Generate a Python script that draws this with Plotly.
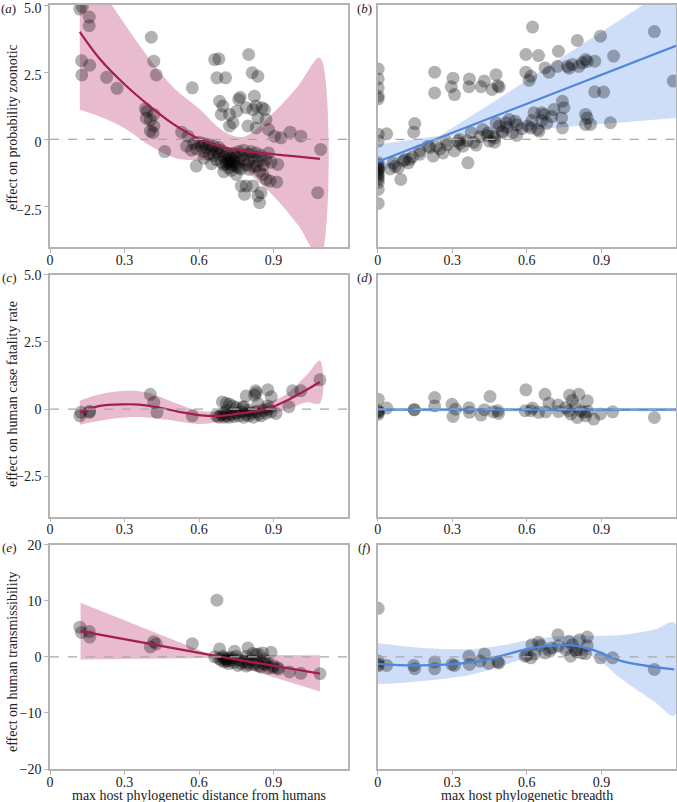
import plotly.graph_objects as go
from plotly.subplots import make_subplots

# ---------------- data ----------------
# panel a: max host phylogenetic distance -> probability zoonotic
a_pts_x = [0.12, 0.13, 0.158, 0.158, 0.127, 0.16, 0.128, 0.228, 0.27, 0.408, 0.418, 0.428,
           0.384, 0.391, 0.418, 0.388, 0.404, 0.418, 0.404, 0.415, 0.462, 0.53, 0.556, 0.573,
           0.589, 0.663, 0.68, 0.672, 0.707, 0.683, 0.696, 0.723, 0.69, 0.737, 0.723, 0.752,
           0.76, 0.766, 0.80, 0.814, 0.837, 0.79, 0.817, 0.823, 0.837, 0.797, 0.83, 0.854,
           0.864, 0.87, 0.83, 0.88, 0.904, 0.93, 0.967, 1.01, 1.09, 1.078, 0.917, 0.913,
           0.886, 0.844, 0.83, 0.857, 0.87, 0.817, 0.837, 0.844, 0.85, 0.79, 0.783, 0.77,
           0.803, 0.58, 0.59, 0.60, 0.61, 0.62, 0.62, 0.63, 0.64, 0.64, 0.65, 0.66, 0.66,
           0.67, 0.67, 0.68, 0.68, 0.69, 0.69, 0.70, 0.70, 0.71, 0.71, 0.72, 0.72, 0.72,
           0.73, 0.73, 0.73, 0.74, 0.74, 0.75, 0.75, 0.76, 0.76, 0.77, 0.77, 0.78, 0.78,
           0.79, 0.80, 0.80, 0.81, 0.82, 0.82, 0.83, 0.84, 0.85, 0.86, 0.87, 0.88, 0.89,
           0.62, 0.65, 0.70, 0.75, 0.55, 0.57, 0.71, 0.73, 0.74, 0.72, 0.76]
a_pts_y = [4.85, 4.93, 4.55, 4.23, 2.93, 2.76, 2.40, 2.31, 1.90, 3.80, 2.91, 2.40,
           1.14, 1.05, 0.93, 0.79, 0.72, 0.50, 0.31, 0.25, -0.45, 0.27, 0.12, 1.92,
           -0.99, 2.97, 3.00, 2.29, 2.29, 1.42, 1.24, 0.93, 0.93, 0.62, 0.50, 1.05,
           1.49, 1.57, 3.16, 2.48, 2.35, 1.18, 1.11, 1.61, 0.80, 0.50, 1.24, 1.18,
           1.11, 0.74, 0.43, 0.37, 0.12, 0.06, 0.27, 0.12, -0.37, -1.98, -0.93, -1.58,
           -1.55, -1.18, -0.99, -1.30, -1.49, -1.73, -2.10, -2.35, -1.98, -1.73, -2.04, -1.73,
           -1.11, -0.15, -0.35, -0.10, -0.25, -0.45, -0.15, -0.30, -0.55, -0.20, -0.35, -0.60, -0.25,
           -0.45, -0.75, -0.30, -0.55, -0.85, -0.40, -0.65, -0.95, -0.50, -0.80, -1.05, -0.60, -0.85,
           -0.70, -0.95, -1.15, -0.80, -0.50, -1.00, -0.65, -0.85, -0.45, -1.10, -0.60, -0.75, -0.40,
           -0.95, -0.55, -0.80, -0.45, -0.65, -1.00, -0.50, -0.80, -0.60, -0.95, -0.75, -0.50, -0.85,
           -0.70, -0.90, -1.20, -1.30, -0.25, -0.40, -0.90, -0.85, -0.95, -0.75, -1.05]
a_fit_x = [0.12, 0.2, 0.3, 0.4, 0.5, 0.6, 0.7, 0.8, 0.9, 1.0, 1.087]
a_fit_y = [4.0, 3.0, 2.05, 1.25, 0.55, 0.02, -0.3, -0.45, -0.55, -0.64, -0.72]
a_hi_x = [0.12, 0.2, 0.3, 0.4, 0.5, 0.6, 0.7, 0.78, 0.9, 1.0, 1.087]
a_hi_y = [7.0, 5.7, 4.3, 3.0, 1.9, 1.15, 0.3, 0.1, 1.0, 2.0, 3.04]
a_lo_x = [0.12, 0.2, 0.3, 0.4, 0.5, 0.6, 0.65, 0.7, 0.75, 0.8, 0.9, 1.0, 1.087]
a_lo_y = [1.1, 0.85, 0.42, -0.22, -0.68, -0.78, -0.75, -0.68, -0.85, -1.25, -2.1, -3.2, -4.4]

# panel b: max host phylogenetic breadth -> probability zoonotic
b_pts_x = [0.002, 0.002, 0.002, 0.002, 0.002, 0.002, 0.002, 0.002, 0.002, 0.002, 0.002,
           0.002, 0.002, 0.002, 0.002, 0.002, 0.002, 0.002, 0.002,
           0.036, 0.093, 0.063, 0.083, 0.103, 0.123, 0.129, 0.149, 0.145, 0.169, 0.203,
           0.223, 0.229, 0.229, 0.236, 0.263, 0.276, 0.296, 0.303, 0.309, 0.309, 0.323,
           0.33, 0.343, 0.363, 0.367, 0.369, 0.376, 0.386, 0.396, 0.416, 0.429, 0.423,
           0.443, 0.449, 0.46, 0.463, 0.476, 0.483, 0.489, 0.47, 0.476, 0.489, 0.503,
           0.516, 0.529, 0.543, 0.553, 0.559, 0.596, 0.596, 0.623, 0.647, 0.609, 0.616,
           0.603, 0.616, 0.629, 0.643, 0.649, 0.66, 0.669, 0.673, 0.689, 0.709, 0.727,
           0.723, 0.743, 0.749, 0.743, 0.763, 0.77, 0.783, 0.803, 0.809, 0.823, 0.836,
           0.843, 0.836, 0.843, 0.836, 0.856, 0.873, 0.873, 0.896, 0.909, 0.936, 0.949,
           1.113, 1.189, 0.52, 0.50, 0.47, 0.44, 0.41, 0.36, 0.33, 0.28, 0.25, 0.21,
           0.17, 0.14, 0.11, 0.07, 0.05, 0.56, 0.58, 0.66, 0.68, 0.70, 0.74, 0.62]
b_pts_y = [2.62, 2.25, 1.92, 1.61, 1.51, 0.19, -0.06, -0.87, -0.95, -1.05, -1.15, -1.24,
           -1.32, -1.40, -1.49, -1.60, -1.86, -2.38, -1.10,
           0.21, -1.49, -0.87, -1.05, -0.80, -0.87, -0.74, 0.59, 0.27, -0.43, -0.25,
           -0.62, 2.50, 1.73, -0.25, -0.50, -0.06, 1.96, 2.28, 1.67, -0.43, -0.06,
           0.00, -0.25, -0.87, 1.96, 2.25, 0.25, -0.10, -0.21, 1.96, 2.17, 0.37,
           0.25, -0.06, 1.86, 0.12, 2.41, 2.00, 1.95, -0.10, 0.62, 0.50, 0.25,
           0.62, 0.74, 0.25, 0.68, 0.15, 3.16, 2.50, 4.18, 3.12, 2.20, 2.35,
           0.50, 0.43, 0.99, 0.37, 0.31, 0.99, 0.93, 2.66, 2.50, 1.11, 3.28,
           2.72, 1.42, 1.18, 0.43, 2.72, 2.65, 2.79, 3.68, 2.72, 2.85, 2.97,
           2.90, 0.93, 0.80, 0.56, 0.56, 2.91, 1.77, 3.84, 1.76, 0.62, 3.10,
           4.01, 2.17, 0.45, 0.30, 0.05, 0.15, 0.10, -0.05, -0.15, -0.20, -0.35, -0.30,
           -0.55, -0.65, -0.75, -1.00, -1.10, 0.55, 0.40, 0.70, 0.60, 0.85, 0.80, 0.70]
b_fit_x = [0.0, 1.2]
b_fit_y = [-0.83, 3.48]
b_band_x = [0.0, 0.25, 0.5, 0.75, 1.0, 1.2]
b_hi_y = [-0.19, 0.14, 1.6, 3.1, 4.6, 5.8]
b_lo_y = [-1.3, 0.10, 0.28, 0.46, 0.64, 0.80]

# panel c: max host phylogenetic distance -> case fatality rate
c_pts_x = [0.12, 0.125, 0.158, 0.16, 0.404, 0.418, 0.431, 0.573, 0.694, 0.71, 0.723,
           0.79, 0.828, 0.83, 0.824, 0.877, 0.891, 0.837, 0.736, 0.776, 0.877, 0.91,
           0.962, 0.977, 1.01, 1.087,
           0.67, 0.68, 0.69, 0.70, 0.70, 0.71, 0.72, 0.73, 0.74, 0.75, 0.76, 0.77, 0.78,
           0.79, 0.80, 0.80, 0.81, 0.82, 0.83, 0.84, 0.85, 0.86, 0.87, 0.88, 0.89, 0.71,
           0.75, 0.78]
c_pts_y = [-0.25, -0.12, -0.12, -0.08, 0.55, 0.25, -0.12, -0.25, 0.27, 0.22, 0.18,
           0.49, 0.68, 0.60, 0.52, 0.72, 0.46, 0.22, 0.12, 0.06, 0.12, -0.16,
           0.09, 0.68, 0.68, 1.09,
           -0.25, -0.30, -0.20, -0.30, -0.15, -0.25, -0.30, -0.20, -0.28, -0.15, -0.25,
           -0.10, -0.30, -0.20, -0.25, -0.05, -0.15, -0.30, -0.10, -0.20, -0.25, -0.05,
           -0.15, 0.00, -0.10, -0.05, 0.05, 0.10]
c_fit_x = [0.12, 0.2, 0.3, 0.36, 0.44, 0.52, 0.6, 0.683, 0.763, 0.87, 0.964, 1.087]
c_fit_y = [-0.12, 0.12, 0.18, 0.17, 0.06, -0.10, -0.22, -0.25, -0.16, 0.0, 0.37, 1.01]
c_band_x = [0.12, 0.2, 0.3, 0.39, 0.5, 0.6, 0.71, 0.817, 0.94, 1.03, 1.087]
c_hi_y = [0.31, 0.55, 0.68, 0.62, 0.25, -0.06, -0.06, 0.12, 0.49, 1.23, 1.81]
c_lo_y = [-0.58, -0.43, -0.31, -0.31, -0.43, -0.55, -0.43, -0.25, -0.06, 0.25, 0.22]

# panel d: max host phylogenetic breadth -> case fatality rate
d_pts_x = [0.002, 0.002, 0.002, 0.002, 0.036, 0.147, 0.229, 0.229, 0.299, 0.303, 0.313,
           0.367, 0.369, 0.416, 0.429, 0.452, 0.465, 0.483, 0.486, 0.596, 0.593, 0.616,
           0.623, 0.647, 0.673, 0.676, 0.689, 0.725, 0.727, 0.756, 0.769, 0.772, 0.783,
           0.776, 0.796, 0.809, 0.803, 0.816, 0.829, 0.836, 0.843, 0.845, 0.869, 0.896,
           0.945, 1.113, 0.147, 0.002]
d_pts_y = [0.37, -0.05, -0.12, -0.20, 0.04, -0.02, 0.43, 0.12, 0.18, -0.27, 0.0,
           0.05, -0.12, -0.22, -0.02, 0.47, -0.10, -0.06, -0.16, 0.72, -0.06, -0.06,
           0.04, -0.12, 0.55, -0.10, 0.22, 0.15, -0.09, 0.06, -0.06, 0.52, 0.33,
           -0.18, 0.12, 0.55, -0.31, -0.06, -0.12, -0.25, 0.31, -0.08, -0.37, -0.18,
           -0.10, -0.31, -0.02, -0.10]
d_fit_x = [0.0, 1.2]
d_fit_y = [-0.02, -0.02]
d_hi_y = [0.04, 0.04]
d_lo_y = [-0.08, -0.08]

# panel e: max host phylogenetic distance -> transmissibility
e_pts_x = [0.12, 0.127, 0.158, 0.16, 0.404, 0.418, 0.428, 0.573, 0.672, 0.683, 0.663,
           0.696, 0.71, 0.715, 0.736, 0.75, 0.757, 0.743, 0.79, 0.797, 0.79, 0.817,
           0.797, 0.823, 0.857, 0.864, 0.87, 0.875, 0.89, 0.897, 0.917, 0.964, 1.01,
           1.087, 0.68, 0.69, 0.70, 0.70, 0.71, 0.72, 0.72, 0.73, 0.74, 0.76, 0.77, 0.78,
           0.80, 0.81, 0.83, 0.84, 0.85, 0.86, 0.88, 0.90, 0.92, 0.83, 0.84]
e_pts_y = [5.3, 4.35, 4.5, 3.53, 1.76, 2.7, 2.3, 2.35, 10.1, 1.41, 0.0,
           0.1, -0.76, -0.6, -0.18, 0.12, -1.53, 1.0, 0.1, -0.94, -1.65, 0.59,
           1.59, -1.35, 0.7, -0.47, -1.35, -0.9, 0.82, -1.94, -1.94, -2.7, -2.94,
           -3.0, -0.3, -0.6, -0.2, -0.9, -0.4, -1.2, -0.1, -0.6, -1.0, -0.5, -1.2, -0.8,
           -1.4, -0.5, -1.0, -1.6, -1.8, -1.2, -2.0, -1.6, -2.2, 0.4, 0.5]
e_fit_x = [0.123, 0.65, 1.087]
e_fit_y = [4.6, 0.3, -3.0]
e_band_x = [0.123, 0.65, 1.087]
e_hi_y = [9.65, 0.35, 0.3]
e_lo_y = [-0.47, -0.2, -6.2]

# panel f: max host phylogenetic breadth -> transmissibility
f_pts_x = [0.002, 0.002, 0.002, 0.002, 0.036, 0.145, 0.149, 0.229, 0.229, 0.299, 0.309,
           0.367, 0.369, 0.412, 0.429, 0.447, 0.483, 0.488, 0.593, 0.616, 0.62, 0.647,
           0.656, 0.673, 0.692, 0.725, 0.727, 0.756, 0.769, 0.776, 0.783, 0.796, 0.812,
           0.82, 0.836, 0.843, 0.843, 0.896, 0.945, 1.113, 0.60, 0.63, 0.70, 0.80]
f_pts_y = [8.65, -0.76, -1.3, -1.6, -1.53, -1.53, -2.1, -0.94, -2.1, -1.35, -1.53,
           0.12, -1.35, -0.76, 0.53, -1.18, -0.94, -1.1, 0.12, -0.18, 2.18, 2.59,
           2.0, 0.7, 1.0, 3.94, 2.0, 1.29, 2.76, 0.12, 2.18, 1.18, 3.06,
           0.7, 0.59, 3.53, 2.0, -0.18, -0.18, -2.24, 0.3, 0.5, 1.6, 0.9]
f_fit_x = [0.0, 0.143, 0.289, 0.409, 0.516, 0.623, 0.716, 0.783, 0.863, 0.982, 1.193]
f_fit_y = [-1.24, -1.53, -1.35, -0.76, 0.41, 1.59, 2.06, 2.06, 1.29, -0.76, -2.24]
f_band_x = [0.0, 0.183, 0.383, 0.516, 0.623, 0.756, 0.863, 0.982, 1.116, 1.193]
f_hi_y = [2.47, 1.59, 1.41, 2.18, 3.1, 3.7, 3.76, 3.9, 4.9, 6.1]
f_lo_y = [-4.9, -4.3, -3.1, -1.35, 0.12, 0.7, 0.12, -4.0, -8.1, -10.5]

y_titles = ["effect on probability zoonotic", "effect on human case fatality rate",
            "effect on human transmissibility"]
x_titles = ["max host phylogenetic distance from humans", "max host phylogenetic breadth"]
panel_letters = ["a", "b", "c", "d", "e", "f"]
x_tickvals = [0, 0.3, 0.6, 0.9]
x_ticktext = ["0", "0.3", "0.6", "0.9"]
y_tickvals_top = [5.0, 2.5, 0, -2.5]
y_ticktext_top = ["5.0", "2.5", "0", "\u22122.5"]
y_tickvals_bot = [20, 10, 0, -10, -20]
y_ticktext_bot = ["20", "10", "0", "\u221210", "\u221220"]

# ---------------- styling ----------------
RED = "#a51d4f"
RED_FILL = "rgba(190, 70, 120, 0.36)"
BLUE = "#4f86dc"
BLUE_FILL = "rgba(110, 155, 235, 0.34)"
PT = "rgba(0,0,0,0.30)"
SPINE = "#b4b4b4"
FONT = "Liberation Serif"

fig = make_subplots(rows=3, cols=2)

panels = [
    (1, 1, a_pts_x, a_pts_y, a_fit_x, a_fit_y, a_hi_x, a_hi_y, a_lo_x, a_lo_y, RED, RED_FILL, "spline"),
    (1, 2, b_pts_x, b_pts_y, b_fit_x, b_fit_y, b_band_x, b_hi_y, b_band_x, b_lo_y, BLUE, BLUE_FILL, "linear"),
    (2, 1, c_pts_x, c_pts_y, c_fit_x, c_fit_y, c_band_x, c_hi_y, c_band_x, c_lo_y, RED, RED_FILL, "spline"),
    (2, 2, d_pts_x, d_pts_y, d_fit_x, d_fit_y, d_fit_x, d_hi_y, d_fit_x, d_lo_y, BLUE, BLUE_FILL, "linear"),
    (3, 1, e_pts_x, e_pts_y, e_fit_x, e_fit_y, e_band_x, e_hi_y, e_band_x, e_lo_y, RED, RED_FILL, "linear"),
    (3, 2, f_pts_x, f_pts_y, f_fit_x, f_fit_y, f_band_x, f_hi_y, f_band_x, f_lo_y, BLUE, BLUE_FILL, "spline"),
]

for (r, c, px, py, fx, fy, hx, hy, lx, ly, col, fcol, shp) in panels:
    band_x = list(hx) + list(lx)[::-1]
    band_y = list(hy) + list(ly)[::-1]
    fig.add_trace(go.Scatter(x=band_x, y=band_y, mode="lines", fill="toself",
                             fillcolor=fcol, line=dict(width=0, shape=shp),
                             hoverinfo="skip", showlegend=False), row=r, col=c)
    fig.add_trace(go.Scatter(x=px, y=py, mode="markers",
                             marker=dict(size=13, color=PT, line=dict(width=0)),
                             cliponaxis=True, showlegend=False), row=r, col=c)
    fig.add_trace(go.Scatter(x=fx, y=fy, mode="lines",
                             line=dict(color=col, width=2.2, shape=shp),
                             showlegend=False), row=r, col=c)
    fig.add_hline(y=0, line=dict(color="#a8a8a8", width=1.2, dash="dash"), row=r, col=c)

# ---------------- layout ----------------
W, H = 677, 802
ML, MR, MT, MB = 50, 1, 5, 33
PW, PH = W - ML - MR, H - MT - MB

def xdom(x0, x1):
    return [(x0 - ML) / PW, (x1 - ML) / PW]

def ydom(top, bot):
    return [(H - MB - bot) / PH, (H - MB - top) / PH]

col_px = [(50, 348), (377.7, 676)]
row_px = [(5, 247), (274.7, 516.7), (544.7, 769)]

axis_common = dict(showgrid=False, zeroline=False, showline=True, mirror=True,
                   linecolor=SPINE, linewidth=1.5, ticks="outside", ticklen=4,
                   tickcolor=SPINE, tickwidth=1.2, automargin=False,
                   ticklabeloverflow="allow",
                   tickfont=dict(family=FONT, size=14, color="#222"))

for i in range(6):
    r, c = i // 2, i % 2
    idx = "" if i == 0 else str(i + 1)
    xa = dict(axis_common, domain=xdom(*col_px[c]), range=[0, 1.2],
              tickvals=x_tickvals, ticktext=x_ticktext, ticklabelstandoff=-5)
    if r < 2:
        yrange = [-4, 5]
        yv, yt = y_tickvals_top, y_ticktext_top
    else:
        yrange = [-20, 20]
        yv, yt = y_tickvals_bot, y_ticktext_bot
    ya = dict(axis_common, domain=ydom(*row_px[r]), range=yrange, tickvals=yv, ticktext=yt)
    if r == 0:
        ya.update(ticklabelshift=3)
    if c == 1:
        ya.update(showticklabels=False, ticks="")
    fig.layout["xaxis" + idx].update(xa)
    fig.layout["yaxis" + idx].update(ya)

annotations = []
label_pos = [(8.5, 8), (364, 8), (8.5, 277), (364, 277), (8.5, 547), (364, 547)]
for letter, (lx, ly) in zip(panel_letters, label_pos):
    annotations.append(dict(text="(<i>" + letter + "</i>)", x=(lx - ML) / PW,
                            y=(H - MB - ly) / PH, xref="paper", yref="paper",
                            showarrow=False, xanchor="center", yanchor="middle",
                            font=dict(family=FONT, size=13, color="#222")))
ytitle_centers = [127, 394, 662]
for t, cy in zip(y_titles, ytitle_centers):
    annotations.append(dict(text=t, x=(12 - ML) / PW, y=(H - MB - cy) / PH,
                            xref="paper", yref="paper", showarrow=False, textangle=-90,
                            xanchor="center", yanchor="middle",
                            font=dict(family=FONT, size=14, color="#222")))
xtitle_centers = [199, 527]
for t, cx in zip(x_titles, xtitle_centers):
    annotations.append(dict(text=t, x=(cx - ML) / PW, y=(H - MB - 795) / PH,
                            xref="paper", yref="paper", showarrow=False,
                            xanchor="center", yanchor="middle",
                            font=dict(family=FONT, size=14, color="#222")))

fig.update_layout(width=W, height=H, margin=dict(l=ML, r=MR, t=MT, b=MB),
                  paper_bgcolor="white", plot_bgcolor="white",
                  annotations=annotations, showlegend=False,
                  font=dict(family=FONT, size=14, color="#222"))

fig.write_html("out.html", config={"displayModeBar": False},
               post_script="document.body.style.margin='0';document.body.style.overflow='hidden';")
